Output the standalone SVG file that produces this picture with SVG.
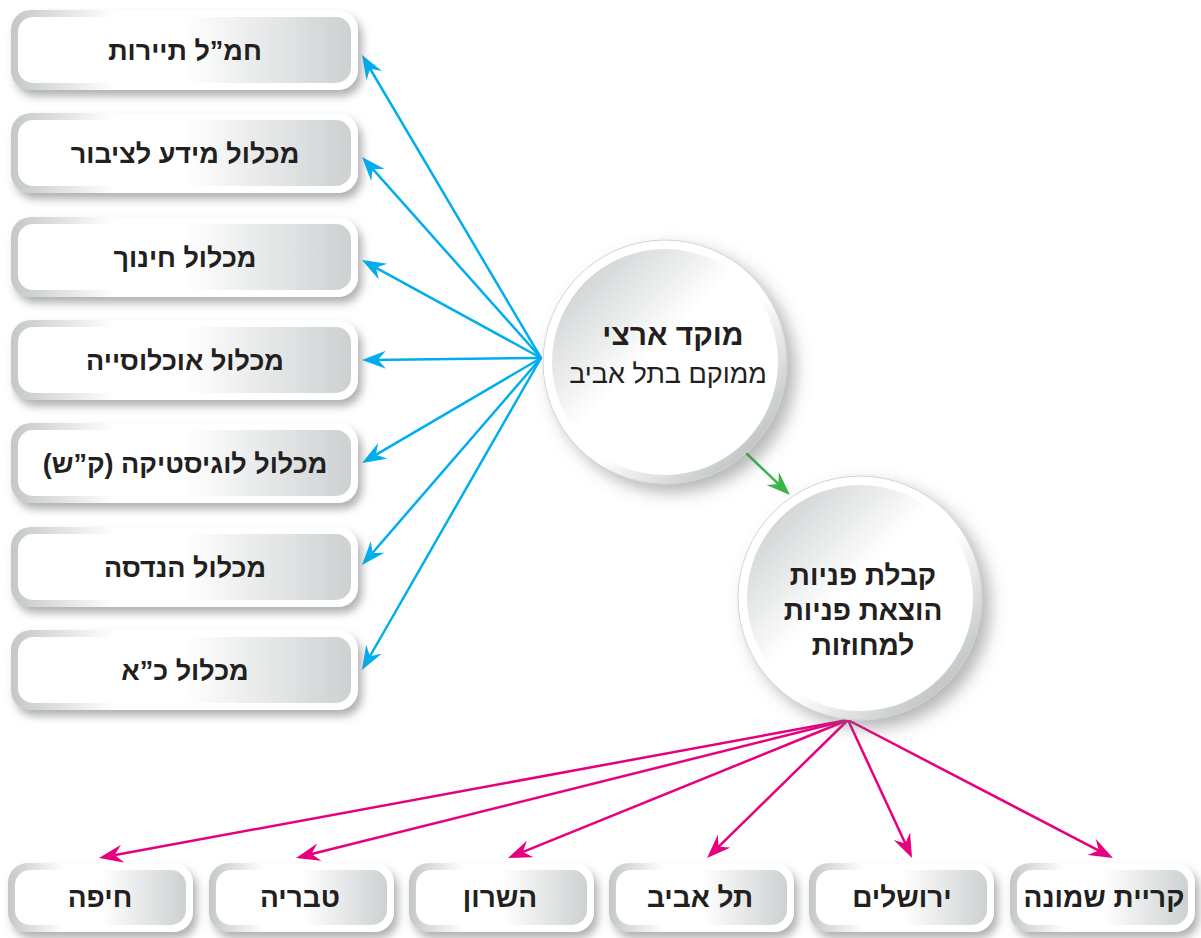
<svg xmlns="http://www.w3.org/2000/svg" width="1201" height="938" viewBox="0 0 1201 938">
<style>
.lbl{font-family:"Liberation Sans","DejaVu Sans",sans-serif;font-weight:bold;font-size:27px;fill:#231f20;text-anchor:middle;direction:rtl}
.lbb{font-family:"Liberation Sans","DejaVu Sans",sans-serif;font-weight:bold;font-size:28px;fill:#231f20;text-anchor:middle;direction:rtl}
.ctitle{font-family:"Liberation Sans","DejaVu Sans",sans-serif;font-weight:bold;font-size:30px;fill:#231f20;text-anchor:middle;direction:rtl}
.ctitle2{font-family:"Liberation Sans","DejaVu Sans",sans-serif;font-weight:bold;font-size:28px;fill:#231f20;text-anchor:middle;direction:rtl}
.csub{font-family:"Liberation Sans","DejaVu Sans",sans-serif;font-weight:normal;font-size:27px;fill:#231f20;text-anchor:middle;direction:rtl}
.outer{fill:url(#gOuter)}
.inner{fill:url(#gInner)}
.blue{stroke:#00aeef;stroke-width:2.5;fill:none;marker-end:url(#aBlue)}
.pink{stroke:#e6007e;stroke-width:2.5;fill:none;marker-end:url(#aPink)}
.green{stroke:#39b54a;stroke-width:2.5;fill:none;marker-end:url(#aGreen)}
</style>
<defs>
<linearGradient id="gOuter" x1="0" y1="0" x2="1" y2="0">
<stop offset="0" stop-color="#c3c7c8"/><stop offset="0.3" stop-color="#ffffff"/><stop offset="1" stop-color="#ffffff"/>
</linearGradient>
<linearGradient id="gInner" x1="0" y1="0" x2="1" y2="0">
<stop offset="0" stop-color="#ffffff"/><stop offset="0.5" stop-color="#ffffff"/><stop offset="1" stop-color="#cdd1d2"/>
</linearGradient>
<linearGradient id="gCOuter" x1="0.15" y1="0.15" x2="0.85" y2="0.85">
<stop offset="0" stop-color="#ffffff"/><stop offset="0.6" stop-color="#ffffff"/><stop offset="1" stop-color="#c3c7c8"/>
</linearGradient>
<linearGradient id="gCInner" x1="0.1" y1="0.1" x2="0.8" y2="0.8">
<stop offset="0" stop-color="#cdd1d2"/><stop offset="0.5" stop-color="#ffffff"/><stop offset="1" stop-color="#ffffff"/>
</linearGradient>
<filter id="sh" x="-20%" y="-20%" width="150%" height="160%">
<feDropShadow dx="4" dy="6" stdDeviation="4" flood-color="#6d6e71" flood-opacity="0.55"/>
</filter>
<filter id="shc" x="-20%" y="-20%" width="150%" height="150%">
<feDropShadow dx="8" dy="8" stdDeviation="8" flood-color="#6d6e71" flood-opacity="0.5"/>
</filter>
<marker id="aBlue" markerUnits="userSpaceOnUse" markerWidth="26" markerHeight="20" refX="13" refY="9" orient="auto">
<path d="M0,0 L24,9 L0,18 L8,9 Z" fill="#00aeef"/>
</marker>
<marker id="aPink" markerUnits="userSpaceOnUse" markerWidth="26" markerHeight="20" refX="13" refY="9" orient="auto">
<path d="M0,0 L24,9 L0,18 L8,9 Z" fill="#e6007e"/>
</marker>
<marker id="aGreen" markerUnits="userSpaceOnUse" markerWidth="26" markerHeight="20" refX="13" refY="9" orient="auto">
<path d="M0,0 L24,9 L0,18 L8,9 Z" fill="#39b54a"/>
</marker>
</defs>
<rect width="1201" height="938" fill="#ffffff"/>

<g id="connectors">
<line class="blue" x1="541" y1="358" x2="367.6" y2="64.5"/>
<line class="blue" x1="541" y1="358" x2="369.3" y2="165.2"/>
<line class="blue" x1="541" y1="358" x2="371.6" y2="265.3"/>
<line class="blue" x1="541" y1="358" x2="373" y2="359.9"/>
<line class="blue" x1="541" y1="358" x2="371.5" y2="457.4"/>
<line class="blue" x1="541" y1="358" x2="369.2" y2="556.7"/>
<line class="blue" x1="541" y1="358" x2="367.5" y2="660.5"/>
<line class="green" x1="745" y1="452" x2="782" y2="487.4"/>
<line class="pink" x1="848" y1="720" x2="109.8" y2="856"/>
<line class="pink" x1="848" y1="720" x2="306.7" y2="855.3"/>
<line class="pink" x1="848" y1="720" x2="518.2" y2="853.9"/>
<line class="pink" x1="848" y1="720" x2="714.9" y2="850.3"/>
<line class="pink" x1="848" y1="720" x2="907.4" y2="848"/>
<line class="pink" x1="848" y1="720" x2="1103.2" y2="852.9"/>
</g>

<g id="n-tourism"><rect class="outer" x="11" y="10" width="347" height="80" rx="20" filter="url(#sh)"/><rect class="inner" x="18" y="17" width="333" height="66" rx="15"/><text class="lbl" x="185" y="60">חמ”ל תיירות</text></g>
<g id="n-info"><rect class="outer" x="11" y="113" width="347" height="80" rx="20" filter="url(#sh)"/><rect class="inner" x="18" y="120" width="333" height="66" rx="15"/><text class="lbl" x="185" y="163">מכלול מידע לציבור</text></g>
<g id="n-edu"><rect class="outer" x="11" y="217" width="347" height="80" rx="20" filter="url(#sh)"/><rect class="inner" x="18" y="224" width="333" height="66" rx="15"/><text class="lbl" x="185" y="267">מכלול חינוך</text></g>
<g id="n-pop"><rect class="outer" x="11" y="320" width="347" height="80" rx="20" filter="url(#sh)"/><rect class="inner" x="18" y="327" width="333" height="66" rx="15"/><text class="lbl" x="185" y="370">מכלול אוכלוסייה</text></g>
<g id="n-log"><rect class="outer" x="11" y="423" width="347" height="80" rx="20" filter="url(#sh)"/><rect class="inner" x="18" y="430" width="333" height="66" rx="15"/><text class="lbl" x="185" y="473">מכלול לוגיסטיקה (ק”ש)</text></g>
<g id="n-eng"><rect class="outer" x="11" y="527" width="347" height="80" rx="20" filter="url(#sh)"/><rect class="inner" x="18" y="534" width="333" height="66" rx="15"/><text class="lbl" x="185" y="577">מכלול הנדסה</text></g>
<g id="n-hr"><rect class="outer" x="11" y="630" width="347" height="80" rx="20" filter="url(#sh)"/><rect class="inner" x="18" y="637" width="333" height="66" rx="15"/><text class="lbl" x="185" y="680">מכלול כ”א</text></g>

<g id="n-center">
<circle cx="665" cy="362" r="122" fill="url(#gCOuter)" stroke="#d1d3d4" stroke-width="1" filter="url(#shc)"/>
<circle cx="665" cy="362" r="113" fill="url(#gCInner)"/>
<text class="ctitle" x="673" y="345">מוקד ארצי</text>
<text class="csub" x="668" y="383">ממוקם בתל אביב</text>
</g>
<g id="n-calls">
<circle cx="860" cy="598" r="122" fill="url(#gCOuter)" stroke="#d1d3d4" stroke-width="1" filter="url(#shc)"/>
<circle cx="860" cy="598" r="113" fill="url(#gCInner)"/>
<text class="ctitle2" x="863" y="585">קבלת פניות</text>
<text class="ctitle2" x="863" y="620">הוצאת פניות</text>
<text class="ctitle2" x="863" y="655">למחוזות</text>
</g>

<g id="n-haifa"><rect class="outer" x="8" y="863" width="185" height="69" rx="20" filter="url(#sh)"/><rect class="inner" x="15" y="870" width="171" height="55" rx="15"/><text class="lbb" x="100" y="907">חיפה</text></g>
<g id="n-tiberias"><rect class="outer" x="209" y="863" width="185" height="69" rx="20" filter="url(#sh)"/><rect class="inner" x="216" y="870" width="171" height="55" rx="15"/><text class="lbb" x="300" y="907">טבריה</text></g>
<g id="n-sharon"><rect class="outer" x="409" y="863" width="185" height="69" rx="20" filter="url(#sh)"/><rect class="inner" x="416" y="870" width="171" height="55" rx="15"/><text class="lbb" x="500" y="907">השרון</text></g>
<g id="n-telaviv"><rect class="outer" x="609" y="863" width="185" height="69" rx="20" filter="url(#sh)"/><rect class="inner" x="616" y="870" width="171" height="55" rx="15"/><text class="lbb" x="700" y="907">תל אביב</text></g>
<g id="n-jerusalem"><rect class="outer" x="809" y="863" width="185" height="69" rx="20" filter="url(#sh)"/><rect class="inner" x="816" y="870" width="171" height="55" rx="15"/><text class="lbb" x="902" y="907">ירושלים</text></g>
<g id="n-kiryat"><rect class="outer" x="1010" y="863" width="185" height="69" rx="20" filter="url(#sh)"/><rect class="inner" x="1017" y="870" width="171" height="55" rx="15"/><text class="lbb" x="1104" y="907">קריית שמונה</text></g>
</svg>
